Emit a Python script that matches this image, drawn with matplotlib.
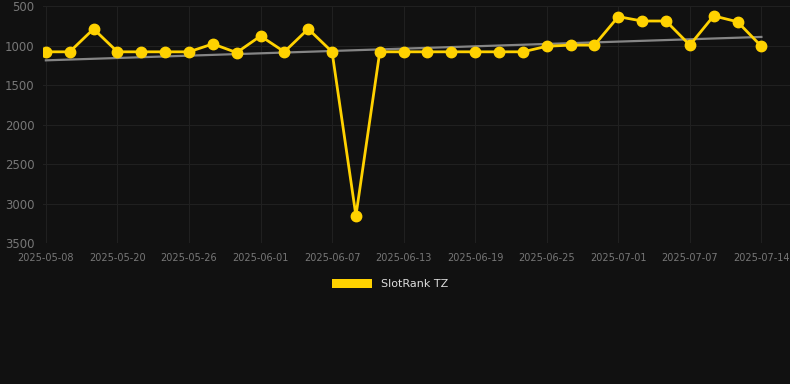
import matplotlib
matplotlib.use("Agg")
import matplotlib.pyplot as plt
from matplotlib.patches import Patch
import numpy as np

dates = ["2025-05-08", "2025-05-16", "2025-05-18", "2025-05-20", "2025-05-22", "2025-05-24",
         "2025-05-26", "2025-05-28", "2025-05-30", "2025-06-01", "2025-06-03", "2025-06-05",
         "2025-06-07", "2025-06-09", "2025-06-11", "2025-06-13", "2025-06-15", "2025-06-17",
         "2025-06-19", "2025-06-21", "2025-06-23", "2025-06-25", "2025-06-27", "2025-06-29",
         "2025-07-01", "2025-07-03", "2025-07-05", "2025-07-07", "2025-07-10", "2025-07-12",
         "2025-07-14"]
ranks = [1080, 1080, 790, 1080, 1080, 1080, 1080, 980, 1090, 880, 1080, 790,
         1080, 3155, 1080, 1080, 1080, 1080, 1080, 1080, 1080, 1010, 995, 995,
         635, 690, 690, 995, 625, 700, 1010]
tick_labels = ["2025-05-08", "2025-05-20", "2025-05-26", "2025-06-01", "2025-06-07",
               "2025-06-13", "2025-06-19", "2025-06-25", "2025-07-01", "2025-07-07",
               "2025-07-14"]
y_ticks = [500, 1000, 1500, 2000, 2500, 3000, 3500]

bg = "#111111"
fig = plt.figure(figsize=(7.9, 3.84), dpi=100, facecolor=bg)
ax = fig.add_axes([43/790, 1-243/384, 1-43/790, (243-6)/384])
ax.set_facecolor(bg)

x = np.arange(len(ranks))
coef = np.polyfit(x, ranks, 1)
trend = np.polyval(coef, x)
ax.plot(x, trend, color="#858585", lw=1.6, zorder=2)
ax.plot(x, ranks, color="#FFD200", lw=2.0, marker="o", markersize=7.5, zorder=3,
        solid_joinstyle="miter")

ax.set_ylim(3500, 500)
ax.set_xlim(-0.12, 31.2)
ax.set_yticks(y_ticks)
ax.set_yticklabels([str(v) for v in y_ticks])
tick_pos = [dates.index(t) for t in tick_labels]
ax.set_xticks(tick_pos)
ax.set_xticklabels(tick_labels)
ax.tick_params(axis="x", colors="#777777", labelsize=7, length=0, pad=7)
ax.tick_params(axis="y", colors="#777777", labelsize=8.5, length=0, pad=6)
ax.grid(True, color="#202020", lw=0.8)
for s in ax.spines.values():
    s.set_visible(False)

handle = Patch(facecolor="#FFD200", edgecolor="none")
fig.legend([handle], ["SlotRank TZ"], loc="center", bbox_to_anchor=(390/790, 1-284/384),
           frameon=False, fontsize=8, labelcolor="#dddddd", handlelength=3.6,
           handleheight=0.9, handletextpad=0.8)

fig.savefig("out.png", dpi=100, facecolor=bg)
